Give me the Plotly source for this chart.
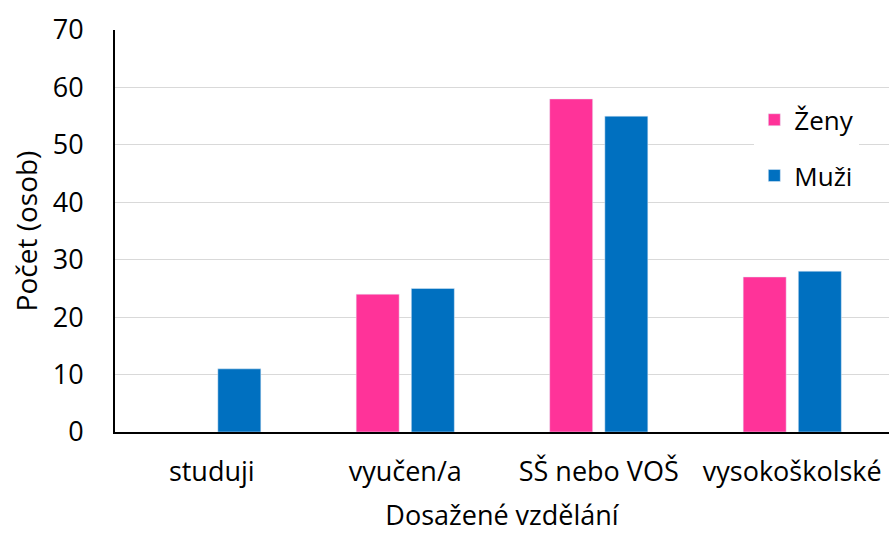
import plotly.graph_objects as go

categories = ["studuji", "vyučen/a", "SŠ nebo VOŠ", "vysokoškolské"]
zeny = [None, 24, 58, 27]
muzi = [11, 25, 55, 28]
y_ticks = [0, 10, 20, 30, 40, 50, 60, 70]

FONT = "Open Sans"
fig = go.Figure()
fig.add_trace(go.Bar(name="Ženy", x=categories, y=zeny, marker_color="#FF3399",
                     legendgroup="z"))
fig.add_trace(go.Bar(name="Muži", x=categories, y=muzi, marker_color="#0070C0",
                     legendgroup="m"))

fig.update_layout(
    width=889, height=533,
    margin=dict(l=115, r=0, t=30, b=101),
    paper_bgcolor="white", plot_bgcolor="white",
    font=dict(family=FONT, size=23, color="#000000"),
    barmode="group", bargap=0.43, bargroupgap=0.22,
    legend=dict(x=0.826, y=0.835, xanchor="left", yanchor="top",
                bgcolor="white", font=dict(size=26),
                traceorder="grouped", tracegroupgap=19),
    xaxis=dict(showline=True, linecolor="black", linewidth=2,
               ticks="", ticklabelstandoff=15, tickfont=dict(size=27),
               title=dict(text="Dosažené vzdělání", standoff=24, font=dict(size=27))),
    yaxis=dict(range=[0, 70], tickvals=y_ticks, showgrid=True,
               gridcolor="#D9D9D9", gridwidth=1,
               showline=True, linecolor="black", linewidth=2,
               ticks="", ticklabelstandoff=24, zeroline=False,
               tickfont=dict(size=27),
               title=dict(text="Počet (osob)", standoff=7, font=dict(size=28))),
)
fig.write_html("out.html", config={"displayModeBar": False},
               post_script="document.body.style.margin='0';")
